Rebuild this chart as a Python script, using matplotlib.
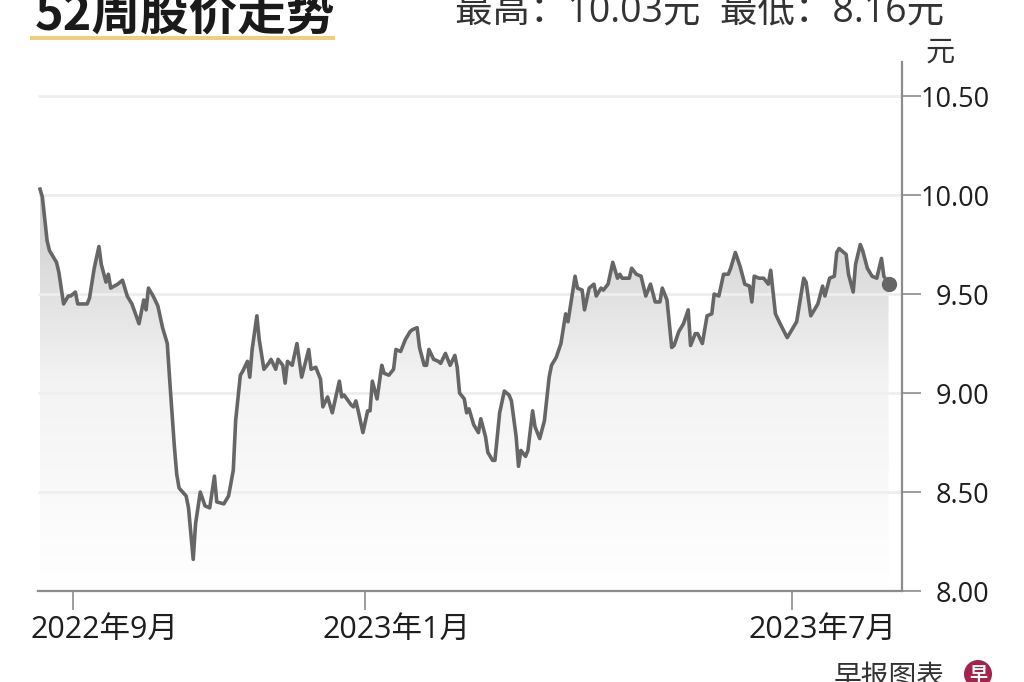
import matplotlib
matplotlib.use('Agg')
import matplotlib.pyplot as plt
import matplotlib.dates as mdates
import matplotlib.transforms as mtransforms
from matplotlib.colors import LinearSegmentedColormap
from matplotlib.patches import Rectangle, PathPatch
from matplotlib.path import Path
import numpy as np
import pandas as pd

plt.rcParams['font.family'] = ['Open Sans', 'Noto Sans CJK SC', 'DejaVu Sans']

# ---------------- data ----------------
dates = [
    '2022-08-18', '2022-08-19', '2022-08-21', '2022-08-22', '2022-08-25', '2022-08-26', '2022-08-28',
    '2022-08-30', '2022-08-31', '2022-09-02', '2022-09-03', '2022-09-07', '2022-09-08', '2022-09-10',
    '2022-09-12', '2022-09-13', '2022-09-15', '2022-09-16', '2022-09-17', '2022-09-20', '2022-09-22',
    '2022-09-24', '2022-09-26', '2022-09-29', '2022-10-01', '2022-10-02', '2022-10-03', '2022-10-05',
    '2022-10-07', '2022-10-09', '2022-10-10', '2022-10-11', '2022-10-12', '2022-10-14', '2022-10-15',
    '2022-10-16', '2022-10-19', '2022-10-20', '2022-10-22', '2022-10-23', '2022-10-25', '2022-10-27',
    '2022-10-29', '2022-10-31', '2022-11-01', '2022-11-04', '2022-11-06', '2022-11-08', '2022-11-09',
    '2022-11-11', '2022-11-12', '2022-11-14', '2022-11-15', '2022-11-16', '2022-11-18', '2022-11-19',
    '2022-11-21', '2022-11-23', '2022-11-24', '2022-11-26', '2022-11-27', '2022-11-29', '2022-11-30',
    '2022-12-01', '2022-12-03', '2022-12-05', '2022-12-07', '2022-12-10', '2022-12-11', '2022-12-13',
    '2022-12-15', '2022-12-16', '2022-12-18', '2022-12-20', '2022-12-23', '2022-12-24', '2022-12-25',
    '2022-12-28', '2022-12-29', '2022-12-30', '2022-12-31', '2023-01-02', '2023-01-04', '2023-01-05',
    '2023-01-06', '2023-01-08', '2023-01-10', '2023-01-11', '2023-01-13', '2023-01-15', '2023-01-16',
    '2023-01-18', '2023-01-20', '2023-01-22', '2023-01-23', '2023-01-25', '2023-01-26', '2023-01-28',
    '2023-01-29', '2023-01-30', '2023-02-01', '2023-02-03', '2023-02-04', '2023-02-06', '2023-02-08',
    '2023-02-10', '2023-02-11', '2023-02-12', '2023-02-14', '2023-02-15', '2023-02-16', '2023-02-18',
    '2023-02-20', '2023-02-21', '2023-02-23', '2023-02-24', '2023-02-26', '2023-02-27', '2023-03-01',
    '2023-03-03', '2023-03-05', '2023-03-06', '2023-03-08', '2023-03-09', '2023-03-10', '2023-03-12',
    '2023-03-13', '2023-03-15', '2023-03-16', '2023-03-18', '2023-03-20', '2023-03-22', '2023-03-23',
    '2023-03-25', '2023-03-27', '2023-03-29', '2023-03-30', '2023-04-02', '2023-04-03', '2023-04-05',
    '2023-04-06', '2023-04-08', '2023-04-10', '2023-04-11', '2023-04-13', '2023-04-14', '2023-04-16',
    '2023-04-18', '2023-04-20', '2023-04-21', '2023-04-22', '2023-04-25', '2023-04-26', '2023-04-28',
    '2023-04-30', '2023-05-02', '2023-05-04', '2023-05-06', '2023-05-08', '2023-05-09', '2023-05-11',
    '2023-05-13', '2023-05-14', '2023-05-16', '2023-05-18', '2023-05-20', '2023-05-21', '2023-05-23',
    '2023-05-24', '2023-05-26', '2023-05-28', '2023-05-30', '2023-05-31', '2023-06-02', '2023-06-04',
    '2023-06-06', '2023-06-07', '2023-06-09', '2023-06-11', '2023-06-13', '2023-06-15', '2023-06-16',
    '2023-06-17', '2023-06-19', '2023-06-21', '2023-06-23', '2023-06-24', '2023-06-26', '2023-06-28',
    '2023-07-01', '2023-07-03', '2023-07-05', '2023-07-08', '2023-07-09', '2023-07-11', '2023-07-14',
    '2023-07-16', '2023-07-17', '2023-07-19', '2023-07-21', '2023-07-22', '2023-07-23', '2023-07-26',
    '2023-07-27', '2023-07-29', '2023-07-30', '2023-08-01', '2023-08-02', '2023-08-04', '2023-08-06',
    '2023-08-08', '2023-08-09', '2023-08-10', '2023-08-11', '2023-08-13',
]
prices = [
    10.03, 9.99, 9.77, 9.72, 9.66, 9.61, 9.45,
    9.49, 9.49, 9.51, 9.45, 9.45, 9.48, 9.63,
    9.74, 9.65, 9.56, 9.60, 9.53, 9.55, 9.57,
    9.49, 9.45, 9.35, 9.47, 9.42, 9.53, 9.49,
    9.44, 9.33, 9.29, 9.25, 9.07, 8.73, 8.59,
    8.52, 8.48, 8.42, 8.16, 8.34, 8.50, 8.43,
    8.42, 8.58, 8.45, 8.44, 8.48, 8.61, 8.86,
    9.09, 9.11, 9.16, 9.08, 9.22, 9.39, 9.27,
    9.12, 9.15, 9.17, 9.12, 9.17, 9.14, 9.05,
    9.16, 9.14, 9.25, 9.08, 9.22, 9.12, 9.13,
    9.07, 8.93, 8.98, 8.90, 9.06, 8.98, 8.99,
    8.94, 8.93, 8.96, 8.91, 8.80, 8.91, 8.91,
    9.06, 8.97, 9.14, 9.10, 9.09, 9.12, 9.22,
    9.21, 9.27, 9.31, 9.32, 9.33, 9.23, 9.14,
    9.14, 9.22, 9.17, 9.16, 9.15, 9.20, 9.14,
    9.19, 9.13, 9.00, 8.97, 8.90, 8.92, 8.84,
    8.80, 8.87, 8.78, 8.70, 8.66, 8.66, 8.90,
    9.01, 8.99, 8.96, 8.78, 8.63, 8.71, 8.68,
    8.71, 8.91, 8.83, 8.77, 8.86, 9.08, 9.14,
    9.18, 9.25, 9.40, 9.36, 9.59, 9.53, 9.52,
    9.42, 9.53, 9.55, 9.49, 9.53, 9.52, 9.55,
    9.66, 9.58, 9.60, 9.58, 9.58, 9.63, 9.60,
    9.59, 9.49, 9.55, 9.46, 9.46, 9.53, 9.47,
    9.23, 9.24, 9.31, 9.35, 9.42, 9.24, 9.30,
    9.30, 9.25, 9.39, 9.40, 9.50, 9.49, 9.60,
    9.60, 9.63, 9.71, 9.64, 9.55, 9.54, 9.46,
    9.59, 9.58, 9.58, 9.55, 9.62, 9.40, 9.35,
    9.28, 9.32, 9.36, 9.58, 9.56, 9.39, 9.45,
    9.54, 9.49, 9.58, 9.59, 9.71, 9.73, 9.70,
    9.60, 9.51, 9.65, 9.75, 9.72, 9.63, 9.59,
    9.58, 9.63, 9.68, 9.59, 9.55,
]

title_text = '52周股价走势'
high_low_text = '最高：10.03元  最低：8.16元'
unit_text = '元'
source_text = '早报图表'
x_tick_dates = ['2022-09-01', '2023-01-03', '2023-07-03']
x_tick_labels = ['2022年9月', '2023年1月', '2023年7月']
y_ticks = [8.00, 8.50, 9.00, 9.50, 10.00, 10.50]

# ---------------- figure ----------------
W, H = 1024, 682
fig = plt.figure(figsize=(W / 100, H / 100), dpi=100)
fig.patch.set_facecolor('white')

ax_left, ax_right, ax_top, ax_bottom = 38, 902, 62, 591
ax = fig.add_axes([ax_left / W, 1 - ax_bottom / H,
                   (ax_right - ax_left) / W, (ax_bottom - ax_top) / H])

x = mdates.date2num(pd.to_datetime(dates))
y = np.array(prices)
ymin, ymax = 8.0, 10.672

# gradient fill under the line
verts = np.vstack([np.column_stack([x, y]), [[x[-1], ymin], [x[0], ymin]], [[x[0], y[0]]]])
codes = [Path.MOVETO] + [Path.LINETO] * (len(verts) - 2) + [Path.CLOSEPOLY]
clip = PathPatch(Path(verts, codes), facecolor='none', edgecolor='none')
ax.add_patch(clip)
cmap = LinearSegmentedColormap.from_list('g', ['#ffffff', '#f3f3f3', '#c9c9c9'])
grad = np.linspace(1, 0, 256).reshape(-1, 1)
im = ax.imshow(grad, extent=[x[0], x[-1], ymin, 10.1], aspect='auto',
               cmap=cmap, origin='upper', zorder=1, interpolation='bilinear')
im.set_clip_path(clip)

# light gridlines
x0 = pd.Timestamp('2022-09-01') - pd.Timedelta(days=14.85)
x1 = pd.Timestamp('2022-09-01') + pd.Timedelta(days=351.7)
xl0, xl1 = mdates.date2num(x0), mdates.date2num(x1)
ax.hlines(y_ticks[1:], xl0, xl1, colors='#eeeeee', lw=2.0, zorder=1.5)

# line and end dot
ax.plot(x, y, color='#666666', lw=2.6, zorder=3, solid_joinstyle='round')
ax.plot(x[-1:], y[-1:], 'o', color='#666666', ms=10, zorder=4)

ax.set_xlim(xl0, xl1)
ax.set_ylim(ymin, ymax)

# spines
for s in ['left', 'top']:
    ax.spines[s].set_visible(False)
for s in ['right', 'bottom']:
    ax.spines[s].set_color('#8c8c8c')
    ax.spines[s].set_linewidth(1.6)
ax.set_facecolor('none')

# y axis on the right
ax.yaxis.tick_right()
ax.set_yticks(y_ticks)
ax.set_yticklabels([f'{v:.2f}' for v in y_ticks])
ax.tick_params(axis='y', direction='out', length=13.5, width=1.2, colors='#8c8c8c',
               labelcolor='#1e1e1e', labelsize=19.5, pad=2)
for lab in ax.get_yticklabels():
    lab.set_horizontalalignment('right')
    lab.set_transform(lab.get_transform() + mtransforms.ScaledTranslation(0.66, 0, fig.dpi_scale_trans))

# x axis
ax.set_xticks(mdates.date2num(pd.to_datetime(x_tick_dates)))
ax.set_xticklabels(x_tick_labels)
ax.tick_params(axis='x', direction='out', length=13.5, width=1.2, colors='#8c8c8c',
               labelcolor='#1e1e1e', labelsize=22, pad=4)
for lab in ax.get_xticklabels():
    lab.set_transform(lab.get_transform() + mtransforms.ScaledTranslation(0.31, 0, fig.dpi_scale_trans))

# texts
fig.text(35 / W, 1 - 31 / H, title_text, fontsize=35, fontweight='bold',
         family=['Noto Sans CJK SC', 'DejaVu Sans'], color='#1a1a1a', va='baseline', ha='left')
fig.add_artist(Rectangle((30 / W, 1 - 40 / H), 305 / W, 4 / H, transform=fig.transFigure,
                         color='#F1CE7C', lw=0))
fig.text(455 / W, 1 - 22 / H, high_low_text, fontsize=27, color='#333333',
         va='baseline', ha='left')
fig.text(940 / W, 1 - 53 / H, unit_text, fontsize=21, color='#333333',
         va='center', ha='center', family=['Noto Sans CJK SC'])
fig.text(945 / W, 1 - 662 / H, source_text, fontsize=20, color='#333333',
         va='top', ha='right', family=['Noto Sans CJK SC'])
fig.text(978 / W, 1 - 674 / H, '早', fontsize=13, color='white', fontweight='bold',
         va='center', ha='center', family=['Noto Sans CJK SC'],
         bbox=dict(boxstyle='circle,pad=0.25', fc='#A3234A', ec='none'))

fig.savefig('out.png', dpi=100, facecolor='white')
